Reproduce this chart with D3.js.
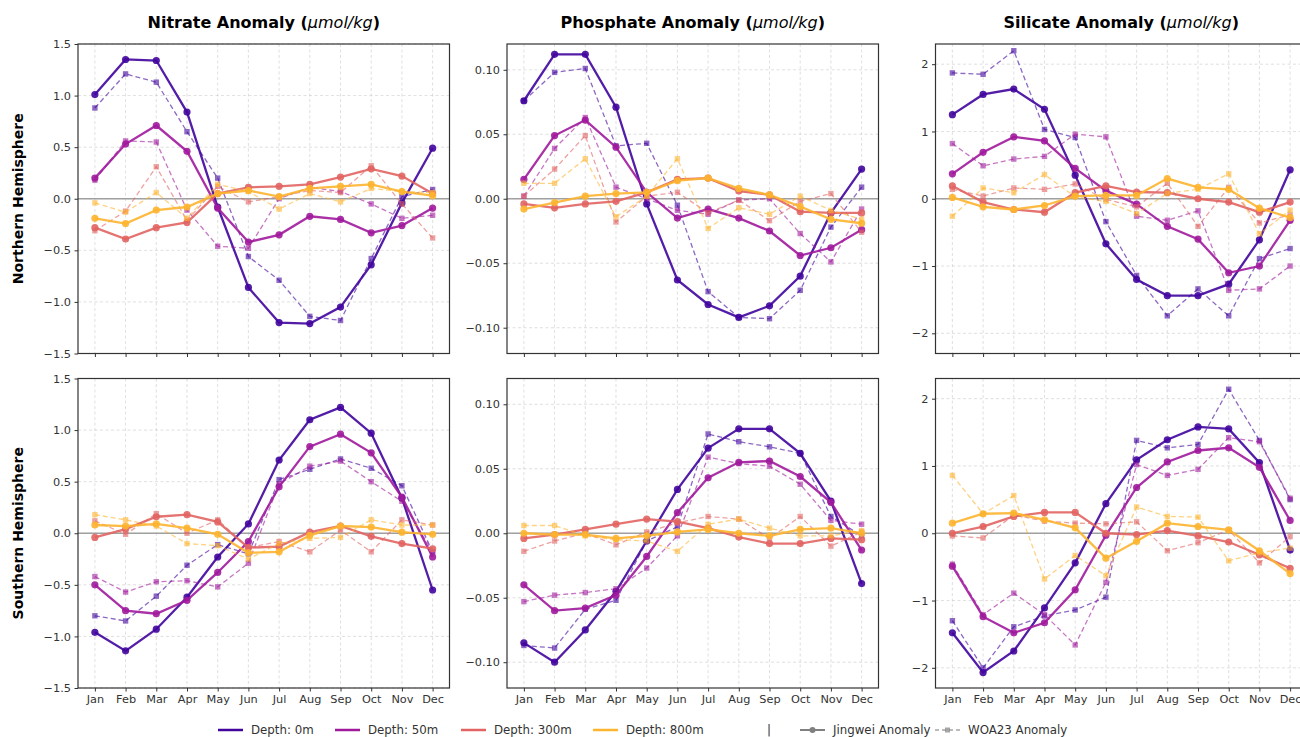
<!DOCTYPE html>
<html>
<head>
<meta charset="utf-8">
<script src="https://cdn.jsdelivr.net/npm/d3@7"></script>
<style>
    body { margin: 0; background: white; }
    svg { display: block; font-family: 'DejaVu Sans', sans-serif; }
</style>
</head>
<body>
<svg id="chart" width="1300" height="737"></svg>
<script>
// monthly anomalies, one row per depth (0m, 50m, 300m, 800m)
const months = ['Jan', 'Feb', 'Mar', 'Apr', 'May', 'Jun', 'Jul', 'Aug', 'Sep', 'Oct', 'Nov', 'Dec'];
const depth_labels = ['Depth: 0m', 'Depth: 50m', 'Depth: 300m', 'Depth: 800m'];
const source_labels = ['Jingwei Anomaly', 'WOA23 Anomaly'];
const column_titles = ['Nitrate Anomaly', 'Phosphate Anomaly', 'Silicate Anomaly'];
const row_titles = ['Northern Hemisphere', 'Southern Hemisphere'];

const nitrate_ticks = [-1.5, -1.0, -0.5, 0, 0.5, 1.0, 1.5];
const phosphate_ticks = [-0.10, -0.05, 0, 0.05, 0.10];
const silicate_ticks = [-2, -1, 0, 1, 2];

const nitrate_nh_jingwei = [
    [1.01, 1.35, 1.34, 0.84, -0.08, -0.86, -1.20, -1.21, -1.05, -0.64, -0.04, 0.49],
    [0.20, 0.53, 0.71, 0.46, -0.09, -0.42, -0.35, -0.17, -0.20, -0.33, -0.26, -0.09],
    [-0.28, -0.39, -0.28, -0.23, 0.05, 0.11, 0.12, 0.14, 0.21, 0.29, 0.22, 0.05],
    [-0.19, -0.24, -0.11, -0.08, 0.05, 0.08, 0.02, 0.10, 0.12, 0.14, 0.07, 0.03]
];
const nitrate_nh_woa = [
    [0.88, 1.21, 1.13, 0.65, 0.20, -0.56, -0.79, -1.14, -1.18, -0.58, 0.02, 0.09],
    [0.18, 0.56, 0.55, -0.11, -0.46, -0.48, 0.00, 0.11, 0.07, -0.05, -0.19, -0.16],
    [-0.31, -0.12, 0.31, -0.21, 0.12, -0.03, 0.02, 0.08, 0.06, 0.32, -0.05, -0.38],
    [-0.04, -0.13, 0.06, -0.19, 0.14, 0.07, -0.10, 0.05, -0.03, 0.10, 0.07, 0.06]
];
const phosphate_nh_jingwei = [
    [0.076, 0.112, 0.112, 0.071, -0.004, -0.063, -0.082, -0.092, -0.083, -0.060, -0.011, 0.023],
    [0.015, 0.049, 0.061, 0.040, 0.005, -0.015, -0.008, -0.015, -0.025, -0.044, -0.038, -0.024],
    [-0.004, -0.007, -0.004, -0.002, 0.005, 0.015, 0.016, 0.006, 0.003, -0.010, -0.011, -0.011],
    [-0.008, -0.003, 0.002, 0.004, 0.005, 0.014, 0.016, 0.008, 0.003, -0.006, -0.016, -0.019]
];
const phosphate_nh_woa = [
    [0.076, 0.098, 0.101, 0.041, 0.043, -0.005, -0.072, -0.092, -0.093, -0.071, -0.022, 0.009],
    [0.002, 0.039, 0.063, 0.009, 0.000, -0.009, -0.012, -0.001, 0.000, -0.027, -0.049, -0.008],
    [0.002, 0.023, 0.049, -0.018, 0.002, 0.005, -0.011, -0.001, -0.017, -0.002, 0.004, -0.026],
    [0.012, 0.012, 0.031, -0.014, 0.002, 0.031, -0.023, -0.007, -0.012, 0.002, -0.009, -0.016]
];
const silicate_nh_jingwei = [
    [1.25, 1.55, 1.63, 1.33, 0.35, -0.67, -1.20, -1.44, -1.44, -1.27, -0.61, 0.43],
    [0.37, 0.69, 0.92, 0.86, 0.45, 0.12, -0.08, -0.41, -0.60, -1.10, -1.00, -0.32],
    [0.19, -0.05, -0.16, -0.20, 0.09, 0.19, 0.10, 0.09, 0.00, -0.05, -0.20, -0.05],
    [0.02, -0.12, -0.16, -0.10, 0.04, 0.05, 0.05, 0.30, 0.17, 0.14, -0.14, -0.28]
];
const silicate_nh_woa = [
    [1.87, 1.85, 2.20, 1.03, 0.91, -0.34, -1.14, -1.74, -1.34, -1.74, -0.89, -0.74],
    [0.82, 0.49, 0.59, 0.63, 0.96, 0.92, -0.26, -0.32, -0.18, -1.36, -1.34, -1.00],
    [0.14, 0.04, 0.16, 0.14, 0.22, -0.01, -0.12, 0.23, -0.41, 0.17, -0.36, -0.24],
    [-0.26, 0.16, 0.09, 0.36, 0.03, -0.04, -0.22, 0.08, 0.14, 0.37, -0.52, -0.17]
];
const nitrate_sh_jingwei = [
    [-0.96, -1.14, -0.93, -0.62, -0.23, 0.09, 0.71, 1.10, 1.22, 0.97, 0.34, -0.55],
    [-0.50, -0.75, -0.78, -0.65, -0.38, -0.08, 0.45, 0.84, 0.96, 0.78, 0.35, -0.23],
    [-0.04, 0.04, 0.16, 0.18, 0.11, -0.14, -0.13, 0.01, 0.07, -0.03, -0.10, -0.15],
    [0.08, 0.07, 0.09, 0.05, -0.01, -0.19, -0.18, -0.02, 0.07, 0.06, 0.01, -0.01]
];
const nitrate_sh_woa = [
    [-0.80, -0.85, -0.61, -0.31, -0.11, -0.20, 0.52, 0.62, 0.72, 0.63, 0.46, -0.18],
    [-0.42, -0.57, -0.47, -0.46, -0.52, -0.29, 0.48, 0.65, 0.70, 0.50, 0.31, -0.18],
    [0.12, -0.01, 0.19, 0.00, 0.13, -0.14, -0.08, -0.18, 0.03, -0.18, 0.13, 0.08],
    [0.18, 0.13, 0.07, -0.10, -0.12, -0.25, -0.10, -0.05, -0.04, 0.13, 0.08, 0.08]
];
const phosphate_sh_jingwei = [
    [-0.085, -0.100, -0.075, -0.045, -0.006, 0.034, 0.066, 0.081, 0.081, 0.062, 0.025, -0.039],
    [-0.040, -0.060, -0.058, -0.048, -0.018, 0.016, 0.043, 0.055, 0.056, 0.044, 0.024, -0.013],
    [-0.004, -0.001, 0.003, 0.007, 0.011, 0.009, 0.004, -0.003, -0.008, -0.008, -0.004, -0.005],
    [0.000, -0.001, -0.001, -0.004, -0.002, 0.001, 0.003, 0.000, -0.002, 0.003, 0.004, 0.000]
];
const phosphate_sh_woa = [
    [-0.087, -0.089, -0.059, -0.052, -0.006, 0.005, 0.077, 0.071, 0.067, 0.062, 0.013, -0.002],
    [-0.053, -0.048, -0.046, -0.043, -0.027, -0.002, 0.059, 0.054, 0.052, 0.038, 0.010, 0.007],
    [-0.014, -0.006, 0.000, -0.009, 0.001, 0.008, 0.013, 0.011, -0.004, 0.013, -0.010, 0.001],
    [0.006, 0.006, -0.002, -0.005, -0.006, -0.014, 0.007, 0.011, 0.004, -0.002, -0.002, 0.002]
];
const silicate_sh_jingwei = [
    [-1.48, -2.07, -1.75, -1.11, -0.44, 0.44, 1.09, 1.39, 1.58, 1.55, 1.05, -0.25],
    [-0.49, -1.24, -1.48, -1.33, -0.84, -0.03, 0.68, 1.06, 1.23, 1.27, 0.98, 0.19],
    [0.00, 0.10, 0.25, 0.31, 0.31, 0.00, -0.02, 0.04, -0.04, -0.13, -0.32, -0.52],
    [0.15, 0.29, 0.30, 0.20, 0.08, -0.37, -0.12, 0.15, 0.10, 0.05, -0.26, -0.60]
];
const silicate_sh_woa = [
    [-1.30, -2.00, -1.39, -1.23, -1.14, -0.95, 1.38, 1.27, 1.32, 2.14, 1.38, 0.50],
    [-0.46, -1.21, -0.89, -1.21, -1.66, -0.73, 1.02, 0.86, 0.95, 1.42, 1.36, 0.52],
    [-0.04, -0.07, 0.27, 0.18, 0.15, 0.14, 0.17, -0.26, -0.14, 0.05, -0.44, -0.05],
    [0.86, 0.29, 0.56, -0.68, -0.33, -0.63, 0.39, 0.25, 0.24, -0.41, -0.29, -0.22]
];

// plasma colours for the four depths
const depth_colors = ['#41049d', '#a01a9c', '#e16462', '#fdb42f'];

const panel_width = 371.5;
const panel_height = 309.5;
const column_left = [78, 507, 935.5];
const row_top = [44, 378.5];
const tick_size = 3.5;
const text_color = '#333';

const panels = [
    {row: 0, col: 0, jw: nitrate_nh_jingwei, woa: nitrate_nh_woa, domain: [-1.5, 1.5], ticks: nitrate_ticks, fmt: d3.format('.1f')},
    {row: 0, col: 1, jw: phosphate_nh_jingwei, woa: phosphate_nh_woa, domain: [-0.12, 0.12], ticks: phosphate_ticks, fmt: d3.format('.2f')},
    {row: 0, col: 2, jw: silicate_nh_jingwei, woa: silicate_nh_woa, domain: [-2.3, 2.3], ticks: silicate_ticks, fmt: d3.format('d')},
    {row: 1, col: 0, jw: nitrate_sh_jingwei, woa: nitrate_sh_woa, domain: [-1.5, 1.5], ticks: nitrate_ticks, fmt: d3.format('.1f')},
    {row: 1, col: 1, jw: phosphate_sh_jingwei, woa: phosphate_sh_woa, domain: [-0.12, 0.12], ticks: phosphate_ticks, fmt: d3.format('.2f')},
    {row: 1, col: 2, jw: silicate_sh_jingwei, woa: silicate_sh_woa, domain: [-2.3, 2.3], ticks: silicate_ticks, fmt: d3.format('d')}
];

const svg = d3.select('#chart');
const defs = svg.append('defs');

function draw_panel(p, i) {
    const g = svg.append('g')
        .attr('transform', `translate(${column_left[p.col]},${row_top[p.row]})`);

    const x = d3.scaleLinear().domain([-0.55, 11.55]).range([0, panel_width]);
    const y = d3.scaleLinear().domain(p.domain).range([panel_height, 0]);

    // grid
    g.append('g').selectAll('line').data(months).join('line')
        .attr('x1', (d, j) => x(j)).attr('x2', (d, j) => x(j))
        .attr('y1', 0).attr('y2', panel_height)
        .attr('stroke', '#c8c8c8').attr('stroke-width', 0.8)
        .attr('stroke-dasharray', '3,2.5').attr('opacity', 0.7);
    g.append('g').selectAll('line').data(p.ticks).join('line')
        .attr('x1', 0).attr('x2', panel_width)
        .attr('y1', d => y(d)).attr('y2', d => y(d))
        .attr('stroke', '#c8c8c8').attr('stroke-width', 0.8)
        .attr('stroke-dasharray', '3,2.5').attr('opacity', 0.7);

    // zero line
    g.append('line')
        .attr('x1', 0).attr('x2', panel_width)
        .attr('y1', y(0)).attr('y2', y(0))
        .attr('stroke', '#a0a0a0').attr('stroke-width', 1.6);

    const clip_id = `clip-${i}`;
    defs.append('clipPath').attr('id', clip_id)
        .append('rect').attr('width', panel_width).attr('height', panel_height);
    const plot = g.append('g').attr('clip-path', `url(#${clip_id})`);

    const line = d3.line().x((d, j) => x(j)).y(d => y(d));

    p.jw.forEach((vals, k) => {
        const color = depth_colors[k];
        plot.append('path').datum(vals)
            .attr('d', line)
            .attr('fill', 'none')
            .attr('stroke', color)
            .attr('stroke-width', 2.3)
            .attr('opacity', 0.9);
        plot.append('g').selectAll('circle').data(vals).join('circle')
            .attr('cx', (d, j) => x(j)).attr('cy', d => y(d))
            .attr('r', 3.6)
            .attr('fill', color)
            .attr('opacity', 0.9);

        const woa_vals = p.woa[k];
        plot.append('path').datum(woa_vals)
            .attr('d', line)
            .attr('fill', 'none')
            .attr('stroke', color)
            .attr('stroke-width', 1.3)
            .attr('stroke-dasharray', '5,3')
            .attr('opacity', 0.6);
        plot.append('g').selectAll('rect').data(woa_vals).join('rect')
            .attr('x', (d, j) => x(j) - 2.7).attr('y', d => y(d) - 2.7)
            .attr('width', 5.4).attr('height', 5.4)
            .attr('fill', color)
            .attr('opacity', 0.6);
    });

    // axes
    const x_axis = d3.axisBottom(x)
        .tickValues(d3.range(months.length))
        .tickFormat(j => p.row === 1 ? months[j] : '')
        .tickSize(tick_size).tickPadding(3.5);
    const y_axis = d3.axisLeft(y)
        .tickValues(p.ticks)
        .tickFormat(p.fmt)
        .tickSize(tick_size).tickPadding(3.5);

    const xg = g.append('g').attr('transform', `translate(0,${panel_height})`).call(x_axis);
    const yg = g.append('g').call(y_axis);
    [xg, yg].forEach(a => {
        a.select('.domain').remove();
        a.selectAll('line').attr('stroke', text_color).attr('stroke-width', 1);
        a.selectAll('text').attr('fill', text_color).attr('font-size', 11.3)
            .attr('font-family', 'DejaVu Sans');
    });

    g.append('rect')
        .attr('width', panel_width).attr('height', panel_height)
        .attr('fill', 'none').attr('stroke', text_color).attr('stroke-width', 1.2);
}

panels.forEach(draw_panel);

// column titles
column_titles.forEach((t, c) => {
    const text = svg.append('text')
        .attr('x', column_left[c] + panel_width / 2)
        .attr('y', 28)
        .attr('text-anchor', 'middle')
        .attr('font-size', 16)
        .attr('font-weight', 'bold')
        .attr('fill', '#000');
    text.append('tspan').text(`${t} (`);
    text.append('tspan').text('\u03bcmol/kg').attr('font-style', 'italic').attr('font-weight', 'normal');
    text.append('tspan').text(')');
});

// row titles
row_titles.forEach((t, r) => {
    svg.append('text')
        .attr('transform', `translate(23,${row_top[r] + panel_height / 2}) rotate(-90)`)
        .attr('text-anchor', 'middle')
        .attr('font-size', 14)
        .attr('font-weight', 'bold')
        .attr('fill', '#000')
        .text(t);
});

// legend
const legend = svg.append('g').attr('transform', 'translate(0,730)');
const legend_x = [218, 335, 461, 593];
depth_labels.forEach((label, k) => {
    const item = legend.append('g').attr('transform', `translate(${legend_x[k]},0)`);
    item.append('line').attr('x1', 0).attr('x2', 25).attr('y1', 0).attr('y2', 0)
        .attr('stroke', depth_colors[k]).attr('stroke-width', 2.5);
    item.append('text').attr('x', 33).attr('y', 4.2)
        .attr('font-size', 11.8).attr('fill', text_color).text(label);
});
legend.append('text').attr('x', 769).attr('y', 4.2).attr('text-anchor', 'middle')
    .attr('font-size', 11.8).attr('fill', text_color).text('|');

const jw_item = legend.append('g').attr('transform', 'translate(800,0)');
jw_item.append('line').attr('x1', 0).attr('x2', 25).attr('y1', 0).attr('y2', 0)
    .attr('stroke', '#808080').attr('stroke-width', 2);
jw_item.append('circle').attr('cx', 12.5).attr('cy', 0).attr('r', 3).attr('fill', '#808080');
jw_item.append('text').attr('x', 33).attr('y', 4.2)
    .attr('font-size', 11.8).attr('fill', text_color).text(source_labels[0]);

const woa_item = legend.append('g').attr('transform', 'translate(935,0)');
woa_item.append('line').attr('x1', 0).attr('x2', 25).attr('y1', 0).attr('y2', 0)
    .attr('stroke', '#808080').attr('stroke-width', 1.3).attr('stroke-dasharray', '4,3')
    .attr('opacity', 0.7);
woa_item.append('rect').attr('x', 10).attr('y', -2.5).attr('width', 5).attr('height', 5)
    .attr('fill', '#808080').attr('opacity', 0.7);
woa_item.append('text').attr('x', 33).attr('y', 4.2)
    .attr('font-size', 11.8).attr('fill', text_color).text(source_labels[1]);
</script>
</body>
</html>
